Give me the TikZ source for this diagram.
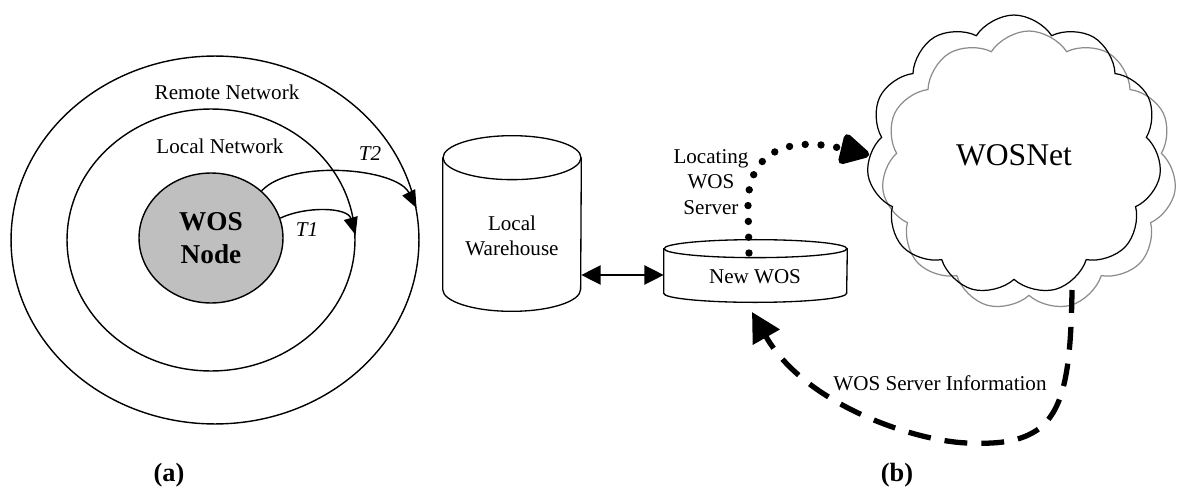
\documentclass[tikz,border=0pt]{standalone}
\usepackage{fontspec}
\setmainfont{Liberation Serif}
\usepackage{tikz}
\usetikzlibrary{shapes.geometric,shapes.symbols}
\usetikzlibrary{arrows.meta,positioning,calc}
\tikzstyle{ring}=[draw,ellipse,line width=0.8pt,inner sep=0pt]
\tikzstyle{body}=[rectangle,inner sep=0pt]
\tikzstyle{drumline}=[line width=0.75pt]
\tikzstyle{puffy}=[draw,cloud,cloud puffs=11,cloud puff arc=115,aspect=1.05,
  line width=0.7pt,minimum width=5.9cm,minimum height=5.6cm]
\tikzstyle{lbl}=[font=\fontsize{12}{14.5}\selectfont,inner sep=0pt]
\tikzstyle{tarrow}=[-{Triangle[length=10pt,width=8pt]},line width=0.8pt]

\begin{document}
\begin{tikzpicture}[x=0.02cm,y=-0.02cm]
  \useasboundingbox (0,0) rectangle (1181,490);
  % (a) rings round the node
  \node[ring,minimum width=8.16cm,minimum height=7.36cm] (remote) at (215,240) {};
  \node[ring,minimum width=5.76cm,minimum height=5.24cm] (local) at (211,240) {};
  \node[ring,fill=black!25,minimum width=2.88cm,minimum height=2.6cm,
    align=center,font=\fontsize{15.5}{18.5}\selectfont\bfseries] (wos) at (211,238) {WOS\\Node};
  \node[lbl] (rlbl) at (227,92) {Remote Network};
  \node[lbl] (llbl) at (220,146) {Local Network};
  \draw[tarrow] (wos.16) .. controls +(25,-12) and +(-8,-28) .. (local.2);
  \draw[tarrow] (wos.43) .. controls +(30,-32) and +(-20,-40) .. (remote.9);
  \node[lbl,font=\fontsize{12}{14.5}\selectfont\itshape] (t1) at (307,230) {T1};
  \node[lbl,font=\fontsize{12}{14.5}\selectfont\itshape] (t2) at (370,154) {T2};
  \node[font=\fontsize{15}{18}\selectfont\bfseries] (capa) at (169,475) {(a)};

  % (b) warehouse and new server, drawn as drums
  \node[body,minimum width=2.76cm,minimum height=2.62cm] (lw) at (512,223.5) {};
  \draw[drumline] (lw.north west) -- (lw.south west)
    arc[start angle=180,end angle=360,x radius=1.38cm,y radius=0.44cm] -- (lw.north east);
  \draw[drumline] (lw.north) ellipse[x radius=1.38cm,y radius=0.44cm];
  \node[lbl,align=center] (lwtext) at (512,236) {Local\\Warehouse};
  \node[body,minimum width=3.66cm,minimum height=0.88cm] (nw) at (755.5,271) {};
  \draw[drumline] (nw.north west) -- (nw.south west)
    arc[start angle=180,end angle=360,x radius=1.83cm,y radius=0.18cm] -- (nw.north east);
  \draw[drumline] (nw.north) ellipse[x radius=1.83cm,y radius=0.18cm];
  \node[lbl] (nwtext) at (755,277) {New WOS};
  \draw[{Triangle[length=11pt,width=11pt]}-{Triangle[length=11pt,width=11pt]},line width=0.8pt]
    (lw.east |- 0,275) -- (nw.west |- 0,275);

  % the net
  \node[puffy,draw=black!45] (shadow) at (1029,171) {};
  \node[puffy,font=\fontsize{18}{21}\selectfont] (net) at (1014,155) {WOSNet};
  % locating the server
  \coordinate (dstart) at (749,253);
  \draw[line width=4.2pt,line cap=round,dash pattern=on 0pt off 9pt,
    -{Triangle[length=19pt,width=19pt,round=false]}]
    (dstart) -- (748,205) .. controls (748,150) and (790,136) .. (net.west);
  \node[lbl,align=center] (loc) at (711,182) {Locating\\WOS\\Server};
  % server information coming back
  \coordinate (bstart) at (1072,290);
  \coordinate (bend) at (752,312);
  \draw[line width=3pt,dash pattern=on 13pt off 8pt,
    -{Triangle[length=16.5pt,width=17pt]}]
    (bstart) .. controls (1071,370) and (1064,408) .. (1040,428)
    .. controls (1020,443) and (995,444) .. (967,443)
    .. controls (915,441) and (805,405) .. (bend);
  \node[lbl] (info) at (940,383) {WOS Server Information};
  \node[font=\fontsize{15}{18}\selectfont\bfseries] (capb) at (897,475) {(b)};
\end{tikzpicture}
\end{document}
